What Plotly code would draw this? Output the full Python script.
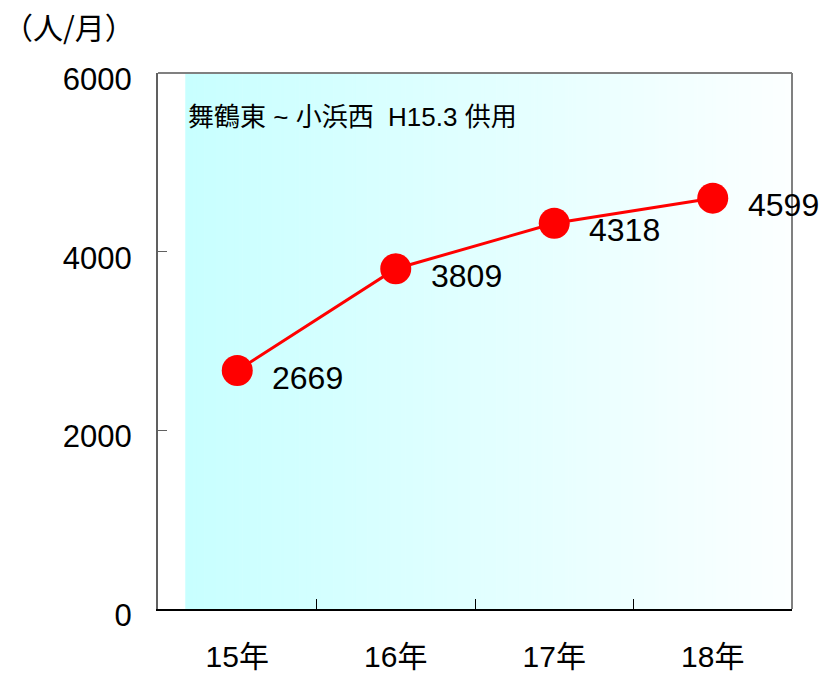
import plotly.graph_objects as go

# Monthly users after the Maizuru-higashi – Obama-nishi section opened
years = ["15年", "16年", "17年", "18年"]
users = [2669, 3809, 4318, 4599]

y_ticks = [0, 2000, 4000, 6000]

FONT = "Liberation Sans, Arial, Noto Sans CJK JP, sans-serif"

fig = go.Figure()

fig.add_trace(go.Scatter(
    x=years, y=users,
    mode="lines+markers",
    line=dict(color="#ff0000", width=3),
    marker=dict(color="#ff0000", size=31, line=dict(width=0)),
    hoverinfo="skip",
    showlegend=False,
))

# value labels beside each point
for yr, v in zip(years, users):
    fig.add_annotation(
        x=yr, y=v, text=str(v), showarrow=False,
        xanchor="left", yanchor="middle", xshift=33, yshift=-7,
        font=dict(family=FONT, size=32, color="#000000"),
    )

# horizontal cyan-to-white background fade
n_strips = 160
x_start = 0.043
for i in range(n_strips):
    t = i / (n_strips - 1)
    r = round(200 + (252 - 200) * t)
    x0 = x_start + (1 - x_start) * i / n_strips
    x1 = x_start + (1 - x_start) * (i + 1) / n_strips
    fig.add_shape(
        type="rect", xref="x domain", yref="y domain",
        x0=x0, x1=x1 + 0.001, y0=0, y1=1,
        fillcolor=f"rgb({r},255,255)", line=dict(width=0), layer="below",
    )

# top and right frame
fig.add_shape(type="line", xref="x domain", yref="y domain",
              x0=0, x1=1, y0=1, y1=1, line=dict(color="#808080", width=2))
fig.add_shape(type="line", xref="x domain", yref="y domain",
              x0=1, x1=1, y0=0, y1=1, line=dict(color="#808080", width=2))

fig.add_annotation(
    xref="x domain", yref="y domain", x=0.044, y=0.918,
    text="舞鶴東 ~ 小浜西&nbsp;&nbsp;H15.3 供用", showarrow=False,
    xanchor="left", yanchor="middle",
    font=dict(family=FONT, size=26, color="#000000"),
)

fig.add_annotation(
    xref="paper", yref="paper", x=-0.247, y=1.087,
    text="（人/月）", showarrow=False,
    xanchor="left", yanchor="middle",
    font=dict(family="Noto Sans CJK JP, sans-serif", size=30, color="#000000"),
)

fig.update_layout(
    width=830, height=674,
    margin=dict(l=158, r=38, t=73, b=65),
    paper_bgcolor="white", plot_bgcolor="white",
    font=dict(family=FONT, color="#000000"),
    xaxis=dict(
        type="category", range=[-0.5, 3.5], automargin=False,
        showgrid=False, zeroline=False,
        showline=True, linecolor="#000000", linewidth=2,
        ticks="inside", ticklen=10, tickwidth=1, tickcolor="#000000",
        tickson="boundaries",
        tickfont=dict(family=FONT, size=30),
        ticklabelstandoff=20,
    ),
    yaxis=dict(
        range=[0, 6000], tickvals=y_ticks, automargin=False,
        showgrid=False, zeroline=False,
        showline=True, linecolor="#606060", linewidth=2,
        ticks="inside", ticklen=9, tickwidth=1, tickcolor="#606060",
        tickfont=dict(family=FONT, size=31),
        ticklabelstandoff=18,
        ticklabelshift=6,
    ),
)

fig.write_html("out.html")
